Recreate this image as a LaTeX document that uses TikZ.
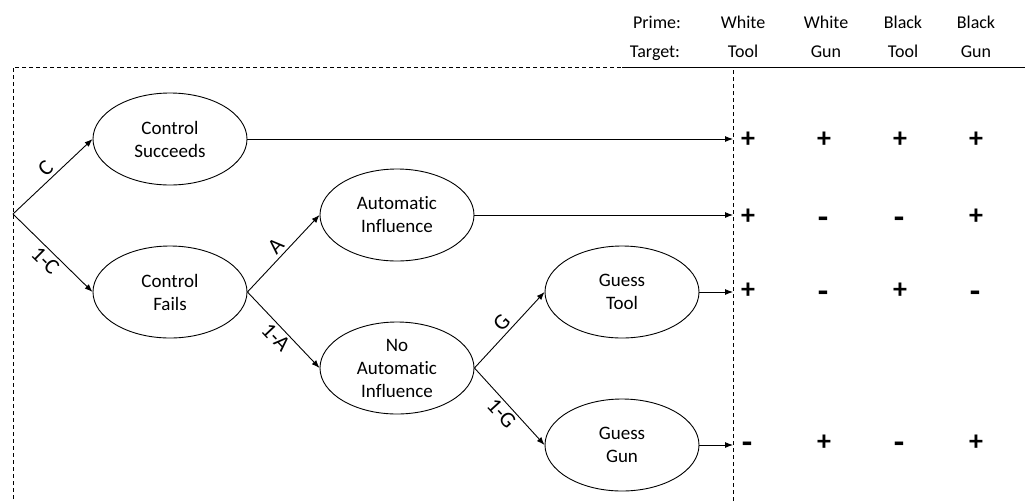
\documentclass[tikz,border=0pt]{standalone}
\usepackage{fontspec}
\setmainfont{Carlito}[Ligatures={NoCommon}]
\usetikzlibrary{shapes.geometric,arrows.meta}
\tikzset{
  state/.style={draw, ellipse, line width=0.9pt, minimum width=154pt, minimum height=92pt, inner sep=0pt, align=center, font=\fontsize{19}{23}\selectfont},
  arr/.style={line width=0.9pt, -{Latex[length=8pt,width=6pt]}},
  lab/.style={font=\fontsize{22}{24}\selectfont, midway, sloped, inner sep=3pt},
  hdr/.style={font=\fontsize{18}{20}\selectfont, anchor=base},
  sign/.style={font=\fontsize{28}{28}\selectfont\bfseries},
  msign/.style={font=\fontsize{34}{34}\selectfont\bfseries, anchor=base},
  frame/.style={line width=0.9pt, dash pattern=on 4pt off 3pt}
}
\begin{document}
\begin{tikzpicture}[x=1pt,y=-1pt]
\useasboundingbox (0,0) rectangle (1030,501);
% header
\node[hdr] (prime) at (657,28) {Prime:};
\node[hdr] (target) at (655,57) {Target:};
\node[hdr] (p1) at (743,28) {White};
\node[hdr] (p2) at (826,28) {White};
\node[hdr] (p3) at (903,28) {Black};
\node[hdr] (p4) at (976,28) {Black};
\node[hdr] (t1) at (743,57) {Tool};
\node[hdr] (t2) at (826,57) {Gun};
\node[hdr] (t3) at (903,57) {Tool};
\node[hdr] (t4) at (976,57) {Gun};
\draw[line width=0.9pt] (622,67) -- (1025,67);
% frame
\draw[frame] (733,501) -- (733,67) -- (13,67) -- (13,501);
% nodes
\coordinate (root) at (13,214);
\node[state] (cs) at (170,139) {Control\\Succeeds};
\node[state] (cf) at (170,292) {Control\\Fails};
\node[state] (ai) at (397,215) {Automatic\\Influence};
\node[state] (nai) at (397,368) {No\\Automatic\\Influence};
\node[state] (gt) at (622,292) {Guess\\Tool};
\node[state] (gg) at (622,445) {Guess\\Gun};
% branches
\draw[arr] (root) -- (cs.west) node[lab, above] {C};
\draw[arr] (root) -- (cf.west) node[lab, below] {1-C};
\draw[arr] (cf.east) -- (ai.west) node[lab, above] {A};
\draw[arr] (cf.east) -- (nai.west) node[lab, below] {1-A};
\draw[arr] (nai.east) -- (gt.west) node[lab, above] {G};
\draw[arr] (nai.east) -- (gg.west) node[lab, below] {1-G};
% outcomes
\coordinate (o1) at (733,139);
\coordinate (o2) at (733,215);
\coordinate (o3) at (733,292);
\coordinate (o4) at (733,445);
\draw[arr] (cs.east) -- (o1);
\draw[arr] (ai.east) -- (o2);
\draw[arr] (gt.east) -- (o3);
\draw[arr] (gg.east) -- (o4);
% signs
\node[sign] (s11) at (748,140) {+};
\node[sign] (s12) at (824,140) {+};
\node[sign] (s13) at (900,140) {+};
\node[sign] (s14) at (976,140) {+};
\node[sign] (s21) at (748,217) {+};
\node[msign] (s22) at (823,228) {-};
\node[msign] (s23) at (899,228) {-};
\node[sign] (s24) at (976,217) {+};
\node[sign] (s31) at (748,291) {+};
\node[msign] (s32) at (823,302) {-};
\node[sign] (s33) at (900,291) {+};
\node[msign] (s34) at (975,302) {-};
\node[msign] (s41) at (747,453) {-};
\node[sign] (s42) at (824,443) {+};
\node[msign] (s43) at (899,453) {-};
\node[sign] (s44) at (976,443) {+};
\end{tikzpicture}
\end{document}
